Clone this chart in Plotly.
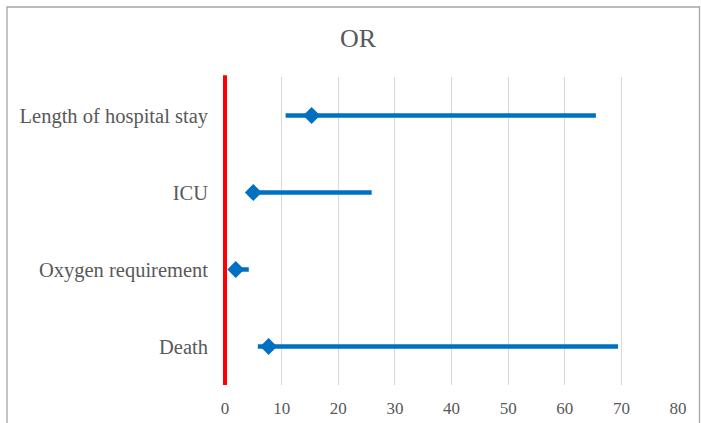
import plotly.graph_objects as go

# Data
categories = ["Death", "Oxygen requirement", "ICU", "Length of hospital stay"]
or_values = [7.7, 1.9, 5.0, 15.3]
ci_lower = [5.8, 1.2, 4.0, 10.7]
ci_upper = [69.4, 4.2, 25.9, 65.5]
x_ticks = [0, 10, 20, 30, 40, 50, 60, 70, 80]
x_range = [0, 80]

blue = "#0070C0"
gray_text = "#595959"
font_family = "Liberation Serif"

W, H = 701, 423
ml, mr, mt, mb = 225, 23, 77, 38
pw, ph = W - ml - mr, H - mt - mb

err_plus = [u - v for u, v in zip(ci_upper, or_values)]
err_minus = [v - l for v, l in zip(or_values, ci_lower)]

fig = go.Figure()
fig.add_trace(go.Scatter(
    x=or_values, y=categories, mode="markers",
    marker=dict(symbol="diamond", size=13, color=blue, line=dict(width=0)),
    error_x=dict(type="data", symmetric=False, array=err_plus, arrayminus=err_minus,
                 color=blue, thickness=4.5, width=0),
    showlegend=False, hoverinfo="x+y",
))

def px_to_paper_x(p):
    return (p - ml) / pw

def px_to_paper_y(p):
    return 1 - (p - mt) / ph

fig.update_layout(
    width=W, height=H,
    margin=dict(l=ml, r=mr, t=mt, b=mb, autoexpand=False),
    paper_bgcolor="white", plot_bgcolor="white",
    title=dict(text="OR", x=358 / W, xref="container", xanchor="center",
               y=1 - 38 / H, yref="container", yanchor="middle",
               font=dict(family=font_family, size=26, color=gray_text)),
    xaxis=dict(range=x_range, tickvals=x_ticks, showgrid=True, gridcolor="#d9d9d9",
               gridwidth=1, zeroline=False, showline=False, ticks="",
               tickfont=dict(family=font_family, size=17, color=gray_text),
               ticklabelstandoff=11, automargin=False),
    yaxis=dict(type="category", categoryorder="array", categoryarray=categories,
               range=[-0.5, 3.5], showgrid=False, zeroline=False,
               showline=False, ticks="",
               tickfont=dict(family=font_family, size=20.5, color=gray_text),
               ticklabelstandoff=16, automargin=False),
    shapes=[
        dict(type="rect", xref="paper", yref="paper",
             x0=px_to_paper_x(7), x1=px_to_paper_x(699.5),
             y0=px_to_paper_y(440), y1=px_to_paper_y(7),
             line=dict(color="#a6a6a6", width=1.3), fillcolor="rgba(0,0,0,0)",
             layer="below"),
        # vertical reference line at the left end of the OR axis (OR = 0)
        dict(type="line", xref="paper", yref="paper",
             x0=0, x1=0, y0=0, y1=1.006,
             line=dict(color="#FF0000", width=4), layer="above"),
    ],
)

fig.write_html("out.html",
               config={"displayModeBar": False},
               post_script="document.body.style.margin='0';document.body.style.overflow='hidden';")
